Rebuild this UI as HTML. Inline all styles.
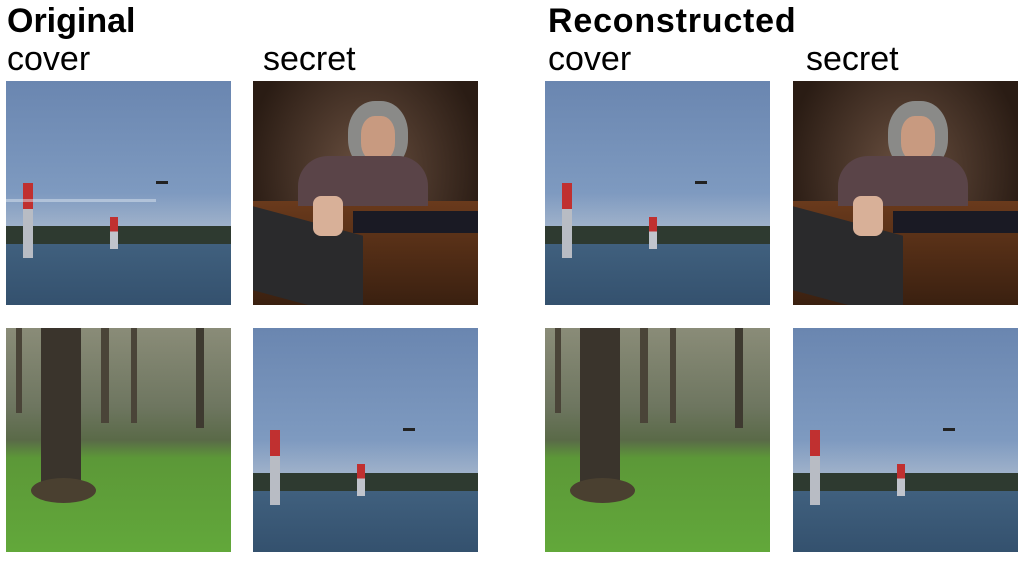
<!DOCTYPE html><html><head><style>
body{margin:0;width:1026px;height:563px;background:#fff;position:relative;overflow:hidden;font-family:"Liberation Sans",sans-serif}
.t{position:absolute;color:#000;white-space:nowrap}
.b{font-weight:bold;font-size:34px}
.r{font-size:34px}
.img{position:absolute;width:225px;height:224px;overflow:hidden}
.img div{position:absolute}
.lake{background:linear-gradient(#6a86b0 0%,#7e9ac0 50%,#a6b6cc 68%)}
.room{background:radial-gradient(ellipse at 50% 40%,#6a5040,#2a1c14 75%)}
.forest{background:linear-gradient(#8a8c78 0%,#6e7660 35%,#5a6a48 50%,#5c9838 58%,#62a83a 100%)}
</style></head><body>
<div class="t b" style="left:7px;top:2px">Original</div>
<div class="t r" style="left:7px;top:40px">cover</div>
<div class="t r" style="left:263px;top:40px">secret</div>
<div class="t b" style="left:548px;top:2px;letter-spacing:0.8px">Reconstructed</div>
<div class="t r" style="left:548px;top:40px">cover</div>
<div class="t r" style="left:806px;top:40px">secret</div>

<div class="img lake" style="left:6px;top:81px"><div style="left:0;top:145px;width:225px;height:20px;background:#2e3a30"></div><div style="left:0;top:163px;width:225px;height:61px;background:linear-gradient(#40607e,#34516e)"></div><div style="left:17px;top:102px;width:10px;height:75px;background:linear-gradient(#c03030 35%,#b8bcc4 35%)"></div><div style="left:104px;top:136px;width:8px;height:32px;background:linear-gradient(#c03030 45%,#c0c4cc 45%)"></div><div style="left:150px;top:100px;width:12px;height:3px;background:#222"></div><div style="left:0;top:118px;width:150px;height:3px;background:rgba(220,230,240,.5)"></div></div>
<div class="img lake" style="left:545px;top:81px"><div style="left:0;top:145px;width:225px;height:20px;background:#2e3a30"></div><div style="left:0;top:163px;width:225px;height:61px;background:linear-gradient(#40607e,#34516e)"></div><div style="left:17px;top:102px;width:10px;height:75px;background:linear-gradient(#c03030 35%,#b8bcc4 35%)"></div><div style="left:104px;top:136px;width:8px;height:32px;background:linear-gradient(#c03030 45%,#c0c4cc 45%)"></div><div style="left:150px;top:100px;width:12px;height:3px;background:#222"></div></div>
<div class="img lake" style="left:253px;top:328px"><div style="left:0;top:145px;width:225px;height:20px;background:#2e3a30"></div><div style="left:0;top:163px;width:225px;height:61px;background:linear-gradient(#40607e,#34516e)"></div><div style="left:17px;top:102px;width:10px;height:75px;background:linear-gradient(#c03030 35%,#b8bcc4 35%)"></div><div style="left:104px;top:136px;width:8px;height:32px;background:linear-gradient(#c03030 45%,#c0c4cc 45%)"></div><div style="left:150px;top:100px;width:12px;height:3px;background:#222"></div></div>
<div class="img lake" style="left:793px;top:328px"><div style="left:0;top:145px;width:225px;height:20px;background:#2e3a30"></div><div style="left:0;top:163px;width:225px;height:61px;background:linear-gradient(#40607e,#34516e)"></div><div style="left:17px;top:102px;width:10px;height:75px;background:linear-gradient(#c03030 35%,#b8bcc4 35%)"></div><div style="left:104px;top:136px;width:8px;height:32px;background:linear-gradient(#c03030 45%,#c0c4cc 45%)"></div><div style="left:150px;top:100px;width:12px;height:3px;background:#222"></div></div>

<div class="img room" style="left:253px;top:81px"><div style="left:0;top:120px;width:225px;height:104px;background:linear-gradient(#6a3a1c,#3a2010)"></div><div style="left:95px;top:20px;width:60px;height:70px;border-radius:45%;background:#8a8a88"></div><div style="left:108px;top:35px;width:34px;height:45px;border-radius:40%;background:#c89a80"></div><div style="left:45px;top:75px;width:130px;height:50px;border-radius:30px 30px 0 0;background:#5a4448"></div><div style="left:0;top:140px;width:110px;height:84px;background:#2a2a2c;transform:skewY(15deg)"></div><div style="left:100px;top:130px;width:125px;height:22px;background:#1a1a24"></div><div style="left:60px;top:115px;width:30px;height:40px;background:#d8b098;border-radius:8px"></div></div>
<div class="img room" style="left:793px;top:81px"><div style="left:0;top:120px;width:225px;height:104px;background:linear-gradient(#6a3a1c,#3a2010)"></div><div style="left:95px;top:20px;width:60px;height:70px;border-radius:45%;background:#8a8a88"></div><div style="left:108px;top:35px;width:34px;height:45px;border-radius:40%;background:#c89a80"></div><div style="left:45px;top:75px;width:130px;height:50px;border-radius:30px 30px 0 0;background:#5a4448"></div><div style="left:0;top:140px;width:110px;height:84px;background:#2a2a2c;transform:skewY(15deg)"></div><div style="left:100px;top:130px;width:125px;height:22px;background:#1a1a24"></div><div style="left:60px;top:115px;width:30px;height:40px;background:#d8b098;border-radius:8px"></div></div>

<div class="img forest" style="left:6px;top:328px"><div style="left:35px;top:0;width:40px;height:170px;background:#3a342c"></div><div style="left:25px;top:150px;width:65px;height:25px;border-radius:50%;background:#4a4030"></div><div style="left:95px;top:0;width:8px;height:95px;background:#4a4438"></div><div style="left:125px;top:0;width:6px;height:95px;background:#4a4438"></div><div style="left:190px;top:0;width:8px;height:100px;background:#3e3a30"></div><div style="left:10px;top:0;width:6px;height:85px;background:#4a4438"></div></div>
<div class="img forest" style="left:545px;top:328px"><div style="left:35px;top:0;width:40px;height:170px;background:#3a342c"></div><div style="left:25px;top:150px;width:65px;height:25px;border-radius:50%;background:#4a4030"></div><div style="left:95px;top:0;width:8px;height:95px;background:#4a4438"></div><div style="left:125px;top:0;width:6px;height:95px;background:#4a4438"></div><div style="left:190px;top:0;width:8px;height:100px;background:#3e3a30"></div><div style="left:10px;top:0;width:6px;height:85px;background:#4a4438"></div></div>
</body></html>
